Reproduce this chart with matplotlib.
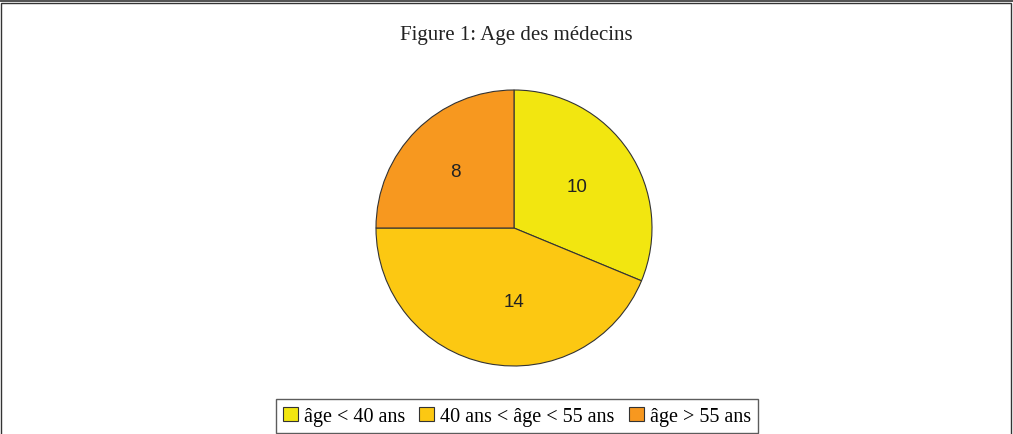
import matplotlib.pyplot as plt
from matplotlib.patches import Rectangle

labels = ['âge < 40 ans', '40 ans < âge < 55 ans', 'âge > 55 ans']
values = [10, 14, 8]
colors = ['#F2E610', '#FCC812', '#F7981F']

fig = plt.figure(figsize=(10.13, 4.35), dpi=100)
W, H = 1013, 435

# pie axes: center (514, 229), radius 138 px
cx, cy, r = 514, 229, 138
ax = fig.add_axes([(cx - r) / W, 1 - (cy + r) / H, 2 * r / W, 2 * r / H])
total = sum(values)
wedges, texts, autotexts = ax.pie(
    values, colors=colors, startangle=90, counterclock=False,
    autopct=lambda p: f'{round(p * total / 100)}', pctdistance=0.56,
    wedgeprops=dict(edgecolor='#333333', linewidth=0.8),
    textprops=dict(family='Liberation Sans', fontsize=13.5, color='#222222'),
)
# value labels sit where the original placed them, not exactly at mid-angle
label_xy = [(0.457, 0.304), (0.0, -0.536), (-0.428, 0.413)]
for t, xy in zip(autotexts, label_xy):
    t.set_position(xy)
ax.set_aspect('equal')
ax.set_xlim(-1, 1)
ax.set_ylim(-1, 1)

fig.text(516 / W, 1 - 36 / H, 'Figure 1: Age des médecins', ha='center', va='center',
         family='Liberation Serif', fontsize=15, color='#222222')

leg = fig.legend(wedges, labels, loc='lower center', ncol=3,
                 bbox_to_anchor=(517 / W, 0.0),
                 prop=dict(family='Liberation Serif', size=14.5),
                 frameon=True, fancybox=False, edgecolor='#333333',
                 handlelength=0.75, handleheight=0.75, handletextpad=0.3,
                 columnspacing=0.7, borderpad=0.35, borderaxespad=0.05)
leg.get_frame().set_linewidth(1.0)

# figure frame
fig.patches.append(Rectangle((1 / W, -0.01), 1 - 3 / W, 1.0, transform=fig.transFigure,
                             fill=False, edgecolor='#333333', linewidth=1.0))
fig.patches.append(Rectangle((0, 1 - 3 / H), 1, 3 / H, transform=fig.transFigure,
                             facecolor='#555555', edgecolor='none'))

fig.savefig('out.png', dpi=100)
